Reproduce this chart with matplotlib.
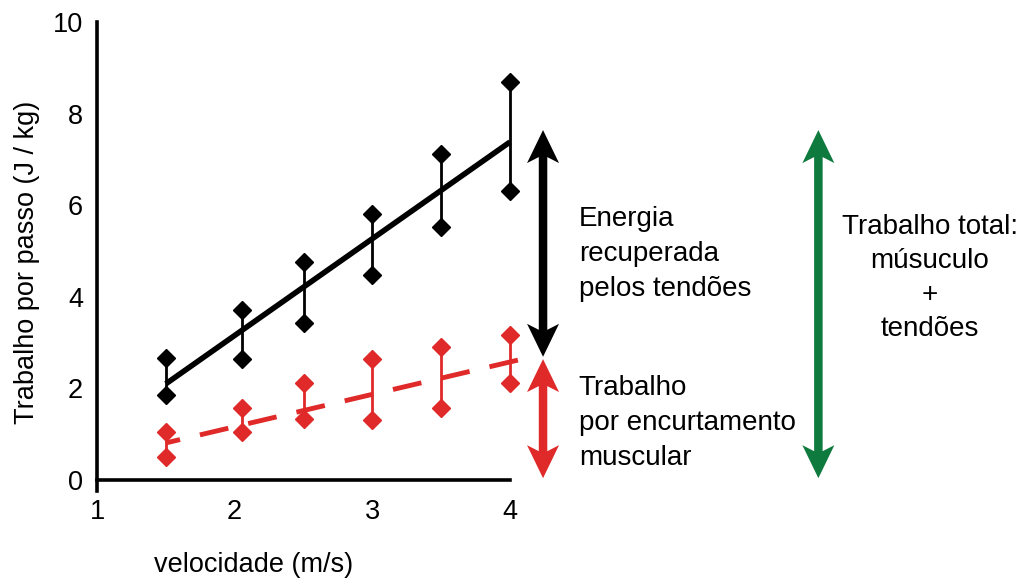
import matplotlib
matplotlib.use("Agg")
import matplotlib.pyplot as plt
from matplotlib.patches import Polygon
from matplotlib.transforms import IdentityTransform

plt.rcParams['font.family'] = ['Liberation Sans', 'DejaVu Sans']

# data
speed = [1.5, 2.05, 2.5, 3.0, 3.5, 4.0]
total_hi = [2.66, 3.71, 4.76, 5.81, 7.12, 8.70]
total_lo = [1.86, 2.64, 3.43, 4.48, 5.53, 6.31]
muscle_hi = [1.05, 1.57, 2.12, 2.64, 2.90, 3.17]
muscle_lo = [0.50, 1.05, 1.33, 1.31, 1.57, 2.12]
total_fit_x = [1.5, 4.0]
total_fit = [2.10, 7.38]
muscle_fit_x = [1.5, 4.06]
muscle_fit = [0.81, 2.62]
xticks = [1, 2, 3, 4]
yticks = [0, 2, 4, 6, 8, 10]

RED = '#e02a2a'
GREEN = '#0f7a3e'
FS = 19.5
FS_NOTE = 20

fig = plt.figure(figsize=(10.24, 5.83), dpi=100)
ax = fig.add_axes([97 / 1024, 0.157, 413 / 1024, 0.8053])

# black: total work
ax.vlines(speed, total_lo, total_hi, color='black', lw=2.0, zorder=2, clip_on=False)
ax.plot(speed, total_hi, 'D', color='black', ms=9.5, clip_on=False, zorder=3)
ax.plot(speed, total_lo, 'D', color='black', ms=9.5, clip_on=False, zorder=3)
ax.plot(total_fit_x, total_fit, color='black', lw=4, solid_capstyle='butt', zorder=4, clip_on=False)

# red: muscle shortening work
ax.vlines(speed, muscle_lo, muscle_hi, color=RED, lw=2.0, zorder=2, clip_on=False)
ax.plot(speed, muscle_hi, 'D', color=RED, ms=9.5, clip_on=False, zorder=3)
ax.plot(speed, muscle_lo, 'D', color=RED, ms=9.5, clip_on=False, zorder=3)
ax.plot(muscle_fit_x, muscle_fit, color=RED, lw=3.5, ls=(3, (6, 4.2)), dash_capstyle='butt',
        clip_on=False, zorder=4)

ax.set_xlim(1, 4)
ax.set_ylim(-0.25, 10)
ax.set_xticks(xticks)
ax.set_yticks(yticks)
ax.spines['top'].set_visible(False)
ax.spines['right'].set_visible(False)
ax.spines['bottom'].set_position(('data', 0))
ax.spines['left'].set_linewidth(2.6)
ax.spines['bottom'].set_linewidth(2.6)
ax.tick_params(axis='x', length=0, pad=14, labelsize=FS)
ax.tick_params(axis='y', length=0, pad=10, labelsize=FS)

ax.set_xlabel('velocidade (m/s)', fontsize=FS)
ax.xaxis.set_label_coords(0.378, -0.157)
ax.xaxis.label.set_va('center')
ax.set_ylabel('Trabalho por passo (J / kg)', fontsize=FS)
ax.yaxis.set_label_coords(-0.169, 0.489)
ax.yaxis.label.set_va('center')


def double_arrow(x, y_top, y_bot, color, head_len=33, half_w=16, notch=6, shaft=8.5):
    # build the arrow in pixel space so the heads keep their shape
    cx, ty = ax.transData.transform((x, y_top))
    _, by = ax.transData.transform((x, y_bot))
    s = shaft / 2
    pts = [(cx, ty),
           (cx + half_w, ty - head_len),
           (cx + s, ty - head_len + notch),
           (cx + s, by + head_len - notch),
           (cx + half_w, by + head_len),
           (cx, by),
           (cx - half_w, by + head_len),
           (cx - s, by + head_len - notch),
           (cx - s, ty - head_len + notch),
           (cx - half_w, ty - head_len)]
    fig.add_artist(Polygon(pts, closed=True, facecolor=color, edgecolor='none',
                           transform=IdentityTransform()))


double_arrow(4.24, 7.64, 2.69, 'black')
double_arrow(4.24, 2.64, 0.04, RED)
double_arrow(6.24, 7.64, 0.04, GREEN)

ax.text(4.5, 4.93, 'Energia\nrecuperada\npelos tendões', fontsize=FS_NOTE, ha='left', va='center',
        linespacing=1.45, clip_on=False)
ax.text(4.5, 1.24, 'Trabalho\npor encurtamento\nmuscular', fontsize=FS_NOTE, ha='left', va='center',
        linespacing=1.45, clip_on=False)
ax.text(7.05, 4.40, 'Trabalho total:\nmúsuculo\n+\ntendões', fontsize=FS_NOTE, ha='center', va='center',
        linespacing=1.4, clip_on=False)

fig.savefig('out.png', dpi=100)
